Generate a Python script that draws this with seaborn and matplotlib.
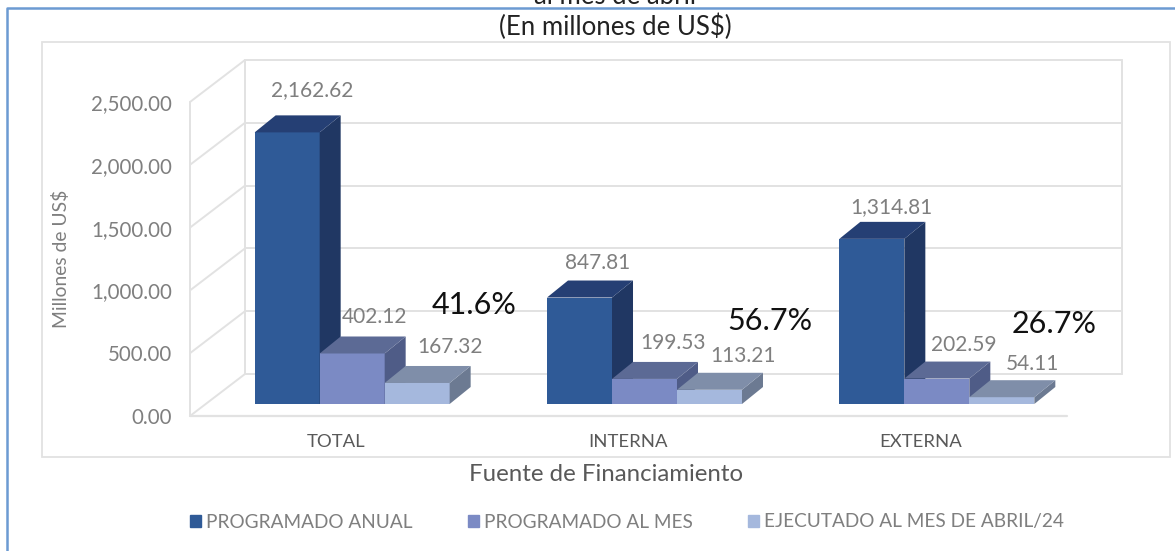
import seaborn as sns
import matplotlib.pyplot as plt
import pandas as pd
from matplotlib.lines import Line2D
from matplotlib.patches import Patch, Polygon, Rectangle
from matplotlib.transforms import Affine2D

# Data
fuentes = ["TOTAL", "INTERNA", "EXTERNA"]
series = ["PROGRAMADO ANUAL", "PROGRAMADO AL MES", "EJECUTADO AL MES DE ABRIL/24"]
programado_anual = [2162.62, 847.81, 1314.81]
programado_mes = [402.12, 199.53, 202.59]
ejecutado_mes = [167.32, 113.21, 54.11]
porcentajes = ["41.6%", "56.7%", "26.7%"]
eje_y = [0, 500, 1000, 1500, 2000, 2500]

# Faces of each series: front, top, side
frente = ["#2f5a97", "#7b8ac4", "#a5b8dd"]
arriba = ["#253f74", "#5c6a95", "#7f8ea9"]
lado = ["#203763", "#4f5c87", "#6c7a92"]

# Pixel offsets of value labels from the centre of the front top edge
label_offsets = [[(25, 42), (22, 36), (33, 36)],
                 [(18, 35), (29, 36), (34, 34)],
                 [(20, 32), (27, 34), (31, 33)]]
pct_pos = [(474, 305), (770, 321), (1054, 324)]

W, H = 1175, 551
GRIS = "#7f7f7f"
LINEA = "#e2e2e2"

df = pd.DataFrame({
    "Fuente": fuentes * 3,
    "Serie": [s for s in series for _ in fuentes],
    "Valor": programado_anual + programado_mes + ejecutado_mes,
})

sns.set_theme(style="white")
plt.rcParams["font.family"] = ["Lato", "DejaVu Sans"]

fig = plt.figure(figsize=(W / 100, H / 100), dpi=100)
ax = fig.add_axes([190 / W, (H - 416) / H, 877 / W, 314 / H])

sns.barplot(data=df, x="Fuente", y="Valor", hue="Serie", hue_order=series, order=fuentes,
            palette=frente, saturation=1, width=0.667, gap=0, legend=False, ax=ax)
ax.set_xlim(-0.5, 2.5)
ax.set_ylim(0, 2500)
fig.canvas.draw()

px_x = 877 / 3
px_y = 314 / 2500

# Back wall and side wall of the fake 3D box
pared = ax.transData + Affine2D().translate(55, 42)
for v in eje_y:
    ax.plot([-0.5, 2.5], [v, v], color=LINEA, lw=1.4, transform=pared, clip_on=False, zorder=1)
    ax.plot([-0.5, -0.5 + 55 / px_x], [v, v + 42 / px_y], color=LINEA, lw=1.4, clip_on=False, zorder=1)
ax.plot([-0.5, -0.5], [0, 2500], color=LINEA, lw=1.4, transform=pared, clip_on=False, zorder=1)
ax.plot([2.5, 2.5], [0, 2500], color=LINEA, lw=1.4, transform=pared, clip_on=False, zorder=1)
ax.plot([-0.5, -0.5], [0, 2500], color=LINEA, lw=1.4, clip_on=False, zorder=1)
ax.plot([-0.5, 2.5], [0, 0], color=LINEA, lw=1.6, clip_on=False, zorder=1)

# Bars sit on the floor, so shift them up and right, then add depth faces
piso = ax.transData + Affine2D().translate(16, 12)
dx = 21 / px_x
dy = 17 / px_y
z = 3
for s, cont in enumerate(ax.containers):
    for i, bar in enumerate(cont):
        x0 = bar.get_x()
        x1 = x0 + bar.get_width()
        h = bar.get_height()
        bar.set_transform(piso)
        bar.set_clip_on(False)
        bar.set_zorder(z)
        bar.set_linewidth(0)
        techo = Polygon([(x0, h), (x1, h), (x1 + dx, h + dy), (x0 + dx, h + dy)], fc=arriba[s], lw=0,
                        transform=piso, clip_on=False, zorder=z + 0.1)
        costado = Polygon([(x1, 0), (x1 + dx, dy), (x1 + dx, h + dy), (x1, h)], fc=lado[s], lw=0,
                          transform=piso, clip_on=False, zorder=z + 0.1)
        ax.add_patch(costado)
        ax.add_patch(techo)
        off = label_offsets[i][s]
        ax.annotate(f"{h:,.2f}", xy=((x0 + x1) / 2, h), xycoords=piso,
                    xytext=(off[0] * 0.72, off[1] * 0.72), textcoords="offset points",
                    ha="center", va="center", fontsize=15, color=GRIS, zorder=10)
        z += 1

for side in ax.spines.values():
    side.set_visible(False)
ax.set_yticks(eje_y)
ax.set_yticklabels([f"{v:,.2f}" for v in eje_y])
ax.tick_params(axis="y", length=0, pad=13, labelsize=14.8, labelcolor=GRIS)
ax.tick_params(axis="x", length=0, pad=13, labelsize=13.3, labelcolor="#595959")
ax.set_xlabel("Fuente de Financiamiento", fontsize=17.3, color="#595959", x=(606 - 190) / 877, labelpad=10)
ax.set_ylabel("Millones de US$", fontsize=13.9, color=GRIS, labelpad=15)


def to_fig(x, y):
    return x / W, 1 - y / H


for texto, (x, y) in zip(porcentajes, pct_pos):
    fig.text(*to_fig(x, y), texto, ha="center", va="center", fontsize=22, color="#111111")

# Title, cut by the top of the picture in the reference
fig.text(*to_fig(615, -3), "al mes de abril", ha="center", va="center", fontsize=18.5, color="#222222")
fig.text(*to_fig(615, 27), "(En millones de US$)", ha="center", va="center", fontsize=18.5, color="#222222")

# Frames
fig.add_artist(Rectangle(to_fig(42, 457), 1128 / W, 415 / H, transform=fig.transFigure,
                         fc="none", ec=LINEA, lw=1.3, zorder=0))
fig.add_artist(Line2D([7 / W, 7 / W, 1], [0, 1 - 8 / H, 1 - 8 / H], transform=fig.transFigure,
                      color="#6c9bd2", lw=1.8))

handles = [Patch(color=c, label=s) for c, s in zip(frente, series)]
fig.legend(handles=handles, loc="center", bbox_to_anchor=(627 / W, 1 - 522 / H), ncol=3, frameon=False,
           fontsize=13.7, labelcolor=GRIS, handlelength=0.58, handleheight=0.58, handletextpad=0.26,
           columnspacing=2.9)

fig.savefig("out.png", dpi=100)
